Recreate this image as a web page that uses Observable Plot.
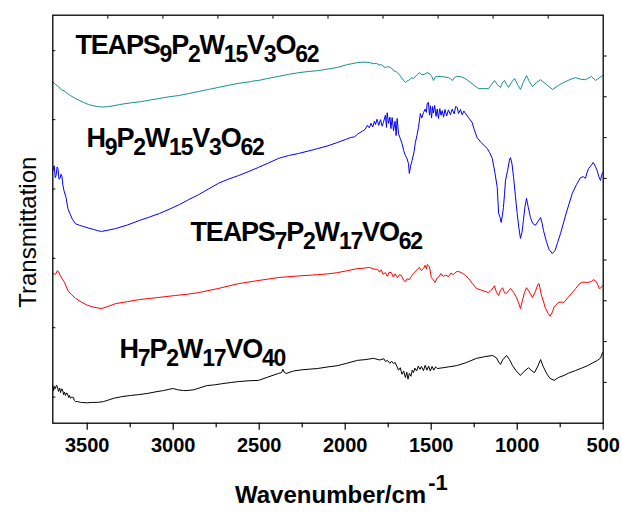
<!DOCTYPE html>
<html><head><meta charset="utf-8">
<script src="https://cdn.jsdelivr.net/npm/d3@7"></script>
<script src="https://cdn.jsdelivr.net/npm/@observablehq/plot@0.6"></script>
<style>body{margin:0;background:#fff}#chart svg{display:block}</style>
</head><body><div id="chart"></div>
<script>
// ---- data: [wavenumber (cm-1), transmittance (arbitrary, offset)] ----
const teaps9 = [[3700,83.7],[3684,83.0],[3667,82.5],[3650,81.7],[3635,81.5],[3615,80.8],[3597,80.3],[3570,79.6],[3545,79.1],[3520,78.6],[3492,78.1],[3465,77.8],[3440,77.6],[3410,77.5],[3376,77.6],[3345,77.8],[3312,78.1],[3250,78.5],[3190,78.8],[3135,79.2],[3080,79.6],[3025,80.0],[2969,80.3],[2910,80.8],[2853,81.3],[2795,81.8],[2737,82.3],[2680,82.8],[2620,83.3],[2570,83.6],[2550,83.7],[2530,83.9],[2504,84.0],[2450,84.5],[2388,85.0],[2330,85.5],[2272,85.9],[2215,86.2],[2161,86.4],[2100,86.8],[2045,87.2],[1987,87.9],[1950,88.2],[1929,88.4],[1890,88.5],[1859,88.4],[1835,88.1],[1819,88.2],[1800,87.8],[1789,87.9],[1775,87.3],[1766,87.2],[1750,87.4],[1737,87.2],[1725,86.8],[1719,86.4],[1705,86.2],[1696,85.9],[1685,85.4],[1673,84.7],[1660,84.0],[1650,83.5],[1640,83.9],[1632,84.0],[1615,84.6],[1603,84.5],[1585,85.3],[1569,85.9],[1555,85.4],[1540,85.5],[1525,85.9],[1510,85.7],[1497,85.0],[1487,84.0],[1475,84.9],[1464,85.0],[1430,84.9],[1400,84.7],[1388,84.4],[1376,84.0],[1365,84.7],[1353,85.0],[1330,85.0],[1300,84.4],[1271,83.5],[1250,82.8],[1225,82.0],[1195,82.0],[1167,82.0],[1150,83.0],[1132,84.0],[1115,83.0],[1097,82.3],[1085,83.5],[1074,84.0],[1062,83.0],[1050,82.3],[1032,83.6],[1015,84.5],[998,83.0],[981,81.8],[965,83.5],[946,85.2],[930,83.8],[911,82.5],[888,83.5],[864,84.2],[830,83.0],[794,81.8],[760,82.8],[731,83.5],[695,84.2],[661,84.7],[630,84.3],[603,84.2],[585,84.6],[568,85.0],[555,84.4],[545,84.0],[525,84.6],[504,85.2]];

const h9 = [[3700,61.9],[3692,63.1],[3686,60.2],[3681,60.7],[3675,62.8],[3670,62.4],[3664,59.8],[3658,60.0],[3652,61.0],[3647,60.5],[3641,58.3],[3635,57.0],[3623,55.3],[3612,52.6],[3601,51.4],[3585,49.9],[3568,48.9],[3545,48.5],[3521,48.2],[3490,47.8],[3463,47.5],[3440,47.2],[3417,47.0],[3380,47.3],[3335,47.7],[3265,48.6],[3196,49.7],[3140,50.5],[3080,51.4],[3020,52.5],[2963,53.6],[2910,54.8],[2853,56.0],[2795,57.4],[2737,58.8],[2680,59.8],[2620,60.7],[2560,61.7],[2504,62.7],[2445,63.8],[2388,64.9],[2330,65.6],[2272,66.1],[2215,66.7],[2161,67.3],[2100,68.0],[2045,68.8],[2000,69.5],[1970,70.0],[1945,70.2],[1929,70.8],[1900,71.6],[1885,72.0],[1871,73.0],[1860,72.4],[1850,73.5],[1840,72.6],[1830,74.0],[1824,73.2],[1815,74.5],[1805,73.0],[1795,74.4],[1785,72.8],[1778,73.7],[1766,75.5],[1760,72.5],[1756,76.1],[1748,73.5],[1740,75.0],[1734,72.2],[1727,74.9],[1719,71.7],[1710,74.0],[1704,70.5],[1698,74.7],[1690,71.0],[1680,69.8],[1669,68.5],[1660,66.8],[1650,65.6],[1640,64.8],[1632,63.6],[1627,61.2],[1620,63.0],[1611,64.4],[1600,66.5],[1592,68.8],[1583,70.5],[1574,72.5],[1563,75.9],[1555,74.8],[1545,76.1],[1535,77.0],[1528,76.2],[1523,78.4],[1516,78.6],[1510,75.5],[1504,77.8],[1498,74.8],[1492,77.6],[1487,76.0],[1480,77.9],[1472,75.2],[1465,77.0],[1458,74.7],[1450,77.1],[1443,75.5],[1436,76.6],[1428,75.0],[1420,76.9],[1410,75.3],[1400,76.8],[1388,75.6],[1378,77.0],[1366,75.8],[1358,77.6],[1349,77.4],[1341,75.9],[1330,76.9],[1320,75.6],[1310,76.5],[1300,75.9],[1285,75.0],[1262,73.7],[1250,72.0],[1233,70.0],[1210,68.8],[1190,68.0],[1174,67.3],[1160,66.3],[1145,64.9],[1130,61.5],[1116,57.8],[1108,51.4],[1100,50.5],[1093,49.2],[1086,51.0],[1080,52.9],[1074,56.0],[1068,59.5],[1056,61.9],[1045,64.5],[1039,65.1],[1030,63.5],[1021,60.2],[1010,55.5],[1000,51.4],[990,47.8],[981,45.3],[972,46.8],[964,49.7],[955,53.0],[946,55.1],[935,52.8],[923,50.4],[910,49.0],[894,48.5],[880,49.4],[864,50.4],[855,49.0],[847,47.2],[830,44.5],[815,42.6],[796,41.6],[780,42.3],[765,44.3],[748,46.5],[715,51.5],[680,56.3],[655,58.5],[632,60.2],[615,60.4],[603,60.0],[595,61.3],[585,62.4],[570,63.2],[558,63.9],[546,63.0],[535,61.9],[525,60.4],[516,59.5],[510,60.6],[504,61.4]];

const teaps7 = [[3700,36.9],[3690,36.5],[3681,36.7],[3674,37.4],[3667,37.2],[3657,36.2],[3647,35.5],[3632,34.5],[3612,32.5],[3591,31.5],[3568,30.6],[3535,29.7],[3498,28.9],[3460,28.4],[3417,28.1],[3380,28.6],[3335,29.3],[3265,29.8],[3196,30.3],[3090,30.8],[2987,31.3],[2920,31.6],[2853,32.0],[2740,33.0],[2620,34.2],[2500,35.0],[2388,35.7],[2270,36.1],[2161,36.4],[2100,36.6],[2045,36.9],[1985,37.4],[1929,37.9],[1890,38.0],[1859,38.2],[1835,37.8],[1812,37.7],[1800,37.0],[1790,37.6],[1780,36.5],[1766,36.9],[1755,36.0],[1745,37.0],[1731,36.9],[1720,35.8],[1710,36.6],[1696,35.7],[1685,36.4],[1673,36.2],[1660,35.0],[1650,34.7],[1640,35.4],[1627,35.2],[1615,36.0],[1603,36.7],[1585,37.5],[1569,38.2],[1557,37.4],[1545,37.9],[1535,38.7],[1528,37.8],[1522,38.9],[1510,38.3],[1499,35.7],[1489,35.2],[1478,34.5],[1465,35.6],[1455,35.9],[1443,36.7],[1430,36.0],[1415,36.3],[1400,35.9],[1385,36.8],[1370,36.4],[1355,37.1],[1341,37.2],[1320,36.8],[1300,36.2],[1283,35.5],[1260,34.2],[1236,33.0],[1200,32.5],[1167,32.0],[1150,32.6],[1132,33.7],[1120,32.0],[1108,31.3],[1097,32.6],[1085,33.2],[1074,32.0],[1062,31.8],[1050,32.5],[1039,33.0],[1020,32.0],[1004,30.8],[992,29.5],[981,28.1],[970,30.0],[958,32.0],[946,33.2],[930,32.2],[911,30.8],[895,32.2],[880,34.0],[873,34.2],[860,31.5],[845,29.5],[838,28.4],[820,26.9],[808,26.2],[795,27.3],[785,28.5],[774,28.9],[760,29.6],[745,29.7],[728,29.6],[705,30.8],[684,31.8],[660,33.0],[638,34.2],[615,34.6],[591,34.5],[570,34.7],[557,35.2],[540,34.7],[530,33.8],[522,33.0],[512,33.2],[504,33.7]];

const h7 = [[3700,9.2],[3695,8.0],[3690,9.0],[3684,8.5],[3679,9.3],[3673,9.0],[3667,7.8],[3660,8.6],[3655,7.5],[3649,8.4],[3644,8.3],[3637,7.0],[3632,7.6],[3626,6.8],[3620,7.4],[3615,7.3],[3608,6.3],[3603,6.8],[3597,6.1],[3590,6.4],[3580,6.3],[3575,5.6],[3568,5.3],[3555,5.3],[3539,5.1],[3500,5.0],[3470,5.1],[3442,5.1],[3420,5.2],[3405,5.3],[3375,5.7],[3347,6.1],[3300,6.5],[3248,6.8],[3200,7.0],[3149,7.3],[3100,7.7],[3056,8.0],[3025,8.3],[3000,8.5],[2975,8.2],[2940,8.0],[2920,8.0],[2880,8.2],[2850,8.6],[2806,9.2],[2760,9.4],[2713,9.7],[2660,10.0],[2620,10.2],[2560,10.4],[2504,10.5],[2450,11.3],[2388,12.2],[2370,12.4],[2362,13.2],[2355,12.5],[2343,12.2],[2300,12.8],[2250,13.1],[2161,13.4],[2100,13.8],[2045,14.1],[1990,14.7],[1929,15.4],[1880,15.6],[1836,15.9],[1800,15.5],[1775,15.8],[1766,15.1],[1755,15.4],[1740,14.7],[1730,15.2],[1719,14.6],[1710,14.9],[1700,14.0],[1690,13.0],[1680,13.6],[1670,12.0],[1660,12.8],[1650,11.2],[1642,12.5],[1635,10.8],[1627,12.2],[1618,11.5],[1610,13.0],[1603,12.4],[1595,13.5],[1585,12.8],[1575,14.0],[1565,13.2],[1557,13.9],[1545,12.9],[1535,14.2],[1525,13.0],[1515,14.0],[1505,12.8],[1495,13.9],[1485,13.0],[1475,13.8],[1464,13.4],[1430,13.6],[1400,13.8],[1353,14.1],[1300,14.8],[1236,15.9],[1190,16.3],[1143,16.6],[1120,16.0],[1108,15.0],[1097,14.4],[1085,15.5],[1062,16.6],[1045,15.6],[1027,14.1],[1005,12.8],[981,11.7],[960,12.7],[934,13.6],[915,12.8],[899,12.4],[880,14.0],[864,15.6],[850,14.0],[829,12.2],[810,11.0],[785,10.5],[760,11.2],[728,11.7],[700,12.3],[661,12.9],[625,13.5],[591,14.1],[560,14.8],[533,15.4],[515,16.0],[504,17.3]];

// series keys, colours, label text (with _{sub}) and label anchor (wavenumber, value)
const seriesKeys   = ["TEAPS9", "H9", "TEAPS7", "H7"];
const seriesData   = [teaps9, h9, teaps7, h7];
const seriesColors = ["#17908c", "#0000ff", "#ff0000", "#000000"];
const labelTexts   = ["TEAPS_{9}P_{2}W_{15}V_{3}O_{62}", "H_{9}P_{2}W_{15}V_{3}O_{62}", "TEAPS_{7}P_{2}W_{17}VO_{62}", "H_{7}P_{2}W_{17}VO_{40}"];
const labelW       = [3568, 3504, 2899, 3312];
const labelT       = [90.6, 67.6, 44.6, 16.1];

// axis ticks
const majorTicks = [3500, 3000, 2500, 2000, 1500, 1000, 500];
const minorTicks = [3250, 2750, 2250, 1750, 1250, 750];
const topTicks   = [3380, 3060, 2740, 2420, 2100, 1780, 1460, 1140, 820];
const leftTicks  = [6.4, 23.4, 40.4, 57.4, 74.4, 91.3];
const rightTicks = [10, 20, 30, 40, 50, 60, 70, 80, 90];
const xTitle = "Wavenumber/cm^{-1}";
const yTitle = "Transmittation";

const rows = [];
seriesKeys.forEach((k, i) => seriesData[i].forEach(([w, t]) => rows.push({s: k, w, t})));
const labelRows = labelTexts.map((txt, i) => ({txt, w: labelW[i], t: labelT[i]}));

const font = "'Liberation Sans', Arial, Helvetica, sans-serif";

const chart = Plot.plot({
  width: 622, height: 514,
  marginLeft: 52.3, marginRight: 19.3, marginTop: 14.7, marginBottom: 91.3,
  x: {domain: [3700, 500], axis: null, label: null},
  y: {domain: [0, 100], axis: null, label: null},
  color: {domain: seriesKeys, range: seriesColors},
  style: {fontFamily: font, background: "white", color: "black", overflow: "visible"},
  marks: [
    Plot.line(rows, {x: "w", y: "t", z: "s", stroke: "s", strokeWidth: 1}),
    Plot.frame({stroke: "black", strokeWidth: 1.3}),
    Plot.axisX(majorTicks, {anchor: "bottom", tickSize: 7, tickPadding: 8, tickFormat: d3.format("d"),
      fontSize: 20, fontWeight: "bold", fontFamily: font, label: null, strokeWidth: 1.2}),
    Plot.axisX(minorTicks, {anchor: "bottom", tickSize: 4.5, fill: "none", label: null, strokeWidth: 1.2}),
    Plot.axisX(topTicks, {anchor: "top", tickSize: 3, dy: 3, fill: "none", label: null}),
    Plot.axisY(leftTicks, {anchor: "left", tickSize: 3, dx: 3, fill: "none", label: null}),
    Plot.axisY(rightTicks, {anchor: "right", tickSize: 3, fill: "none", label: null}),
    Plot.text(labelRows, {x: "w", y: "t", text: "txt", textAnchor: "start", lineAnchor: "bottom",
      fontSize: 27, fontWeight: "bold", fontFamily: font, fill: "black"}),
    Plot.text([yTitle], {frameAnchor: "left", rotate: -90, dx: -17, dy: 13, textAnchor: "middle",
      lineAnchor: "bottom", fontSize: 24, fontFamily: font, fill: "black"}),
    Plot.text([xTitle], {frameAnchor: "bottom", dx: -93, dy: 80, textAnchor: "start",
      lineAnchor: "bottom", fontSize: 24, fontWeight: "bold", fontFamily: font, fill: "black"})
  ]
});

// turn _{..} into subscripts and ^{..} into superscripts
chart.querySelectorAll("text").forEach(t => {
  const s = t.textContent;
  if (!/[_^]\{/.test(s)) return;
  const re = /([_^])\{([^}]*)\}|([^_^]+)/g;
  t.textContent = "";
  if (s.includes("_{")) t.setAttribute("letter-spacing", "-1.2");
  let off = 0, m;
  while ((m = re.exec(s))) {
    const ts = document.createElementNS("http://www.w3.org/2000/svg", "tspan");
    let target = 0;
    if (m[1] === "_") { target = 8; ts.setAttribute("font-size", "23"); ts.textContent = m[2]; }
    else if (m[1] === "^") { target = -13; ts.setAttribute("font-size", "22"); ts.textContent = m[2]; ts.setAttribute("dx", "2"); }
    else { ts.textContent = m[3]; }
    if (target !== off) ts.setAttribute("dy", String(target - off));
    off = target;
    t.appendChild(ts);
  }
});

document.getElementById("chart").appendChild(chart);
</script>
</body></html>
